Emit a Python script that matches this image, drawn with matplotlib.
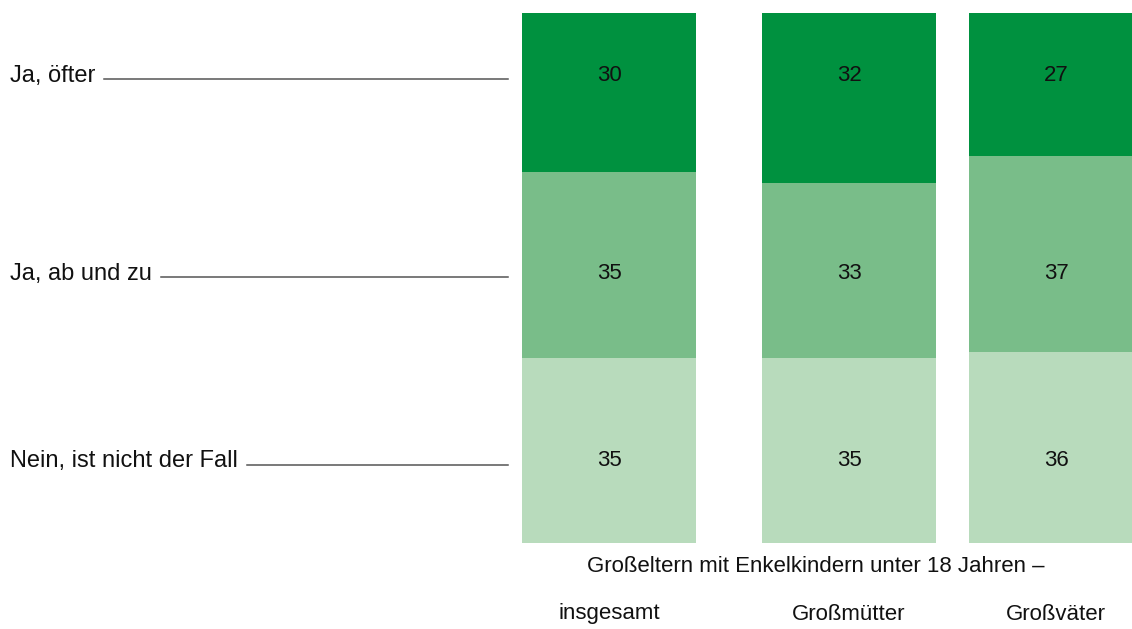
import matplotlib.pyplot as plt
from matplotlib.transforms import blended_transform_factory

# survey shares in percent, stacked from the bottom up
categories = ['insgesamt', 'Großmütter', 'Großväter']
answers = ['Ja, öfter', 'Ja, ab und zu', 'Nein, ist nicht der Fall']
oefter = [30, 32, 27]
ab_und_zu = [35, 33, 37]
nein = [35, 35, 36]
subtitle = 'Großeltern mit Enkelkindern unter 18 Jahren –'

colors = ['#00913f', '#79bd89', '#b8dbbc']
bar_left = [0, 240, 447]
bar_width = 174
row_y = [88.2, 50.8, 15.5]   # vertical position of each answer row

plt.rcParams['font.family'] = ['Liberation Sans', 'DejaVu Sans']

W, H = 1132, 629
fig = plt.figure(figsize=(W / 100, H / 100), dpi=100)
ax = fig.add_axes([522 / W, (H - 543) / H, 610 / W, 530 / H])
ax.set_xlim(0, 610)
ax.set_ylim(0, 100)
ax.axis('off')

series = [oefter, ab_und_zu, nein]
bottoms = [[n + a for n, a in zip(nein, ab_und_zu)], nein, [0, 0, 0]]
for vals, bot, col, y in zip(series, bottoms, colors, row_y):
    ax.bar(bar_left, vals, bottom=bot, width=bar_width, align='edge',
           color=col, linewidth=0, clip_on=False)
    for x, v in zip(bar_left, vals):
        ax.text(x + bar_width / 2, y, str(v), ha='center', va='center',
                fontsize=16, color='#111111')

# answer labels on the left with a leader line
lab_tr = blended_transform_factory(fig.transFigure, ax.transData)
fig.canvas.draw()
renderer = fig.canvas.get_renderer()
for label, y in zip(answers, row_y):
    t = ax.text(10 / W, y, label, transform=lab_tr, ha='left', va='center',
                fontsize=17, color='#111111')
    ext = t.get_window_extent(renderer)
    x0 = (ext.x1 + 9) / W
    ax.plot([x0, 508 / W], [y - 0.7, y - 0.7], transform=lab_tr,
            color='#555555', linewidth=1.1, clip_on=False)

# group captions below the bars
cap_tr = blended_transform_factory(ax.transData, fig.transFigure)
ax.text(294, (H - 567) / H, subtitle, transform=cap_tr, ha='center',
        va='center', fontsize=16, color='#111111')
for x, cat in zip(bar_left, categories):
    ax.text(x + bar_width / 2, (H - 614) / H, cat, transform=cap_tr,
            ha='center', va='center', fontsize=16, color='#111111')

fig.savefig('out.png', dpi=100)
